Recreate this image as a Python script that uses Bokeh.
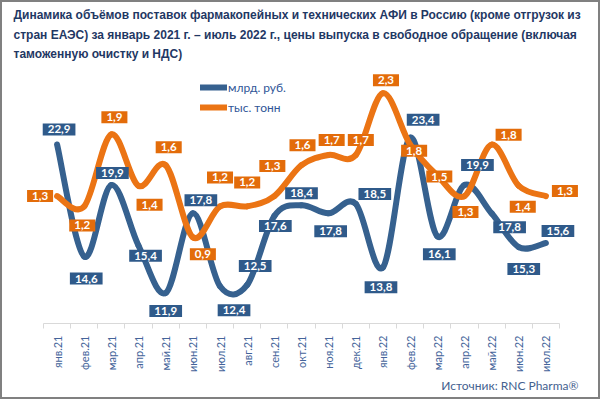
import math
from bokeh.plotting import figure
from bokeh.models import (ColumnDataSource, Range1d, FixedTicker, Title, Legend, LegendItem,
                          InlineStyleSheet)
from bokeh.core.properties import value
from bokeh.embed import file_html
from bokeh.resources import INLINE

# ---- data ----
months = ["янв.21", "фев.21", "мар.21", "апр.21", "май.21", "июн.21", "июл.21", "авг.21",
          "сен.21", "окт.21", "ноя.21", "дек.21", "янв.22", "фев.22", "мар.22", "апр.22",
          "май.22", "июн.22", "июл.22"]
rub = [22.9, 14.6, 19.9, 15.4, 11.9, 17.8, 12.4, 12.5, 17.6, 18.4, 17.8, 18.5, 13.8, 23.4,
       16.1, 19.9, 17.8, 15.3, 15.6]
tonn = [1.3, 1.2, 1.9, 1.4, 1.6, 0.9, 1.2, 1.2, 1.3, 1.6, 1.7, 1.7, 2.3, 1.8, 1.5, 1.3, 1.8,
        1.4, 1.3]

# ---- label offsets (screen px, right / down; layout only) ----
rub_dx = [2, 2, 1, 7, 0, 8, 14, 8, 1, 0, 2, 19, -2, 13, 2, 13, 18, 5, 12]
rub_dy = [-15, 22, -12, 10, 18, -13, 24, -19, 10, -12, 18, -10, 20, -18, 18, -20, 14, 22, -12]
tonn_dx = [-17, -2, 3, 11, 3, 10, 0, 0, -2, 1, 3, 5, 3, 4, 2, 1, 17, 4, 19]
tonn_dy = [0, 19, -17, 19, -18, 17, -29, -24, -30, -20, -15, -15, -13, 6, 1, 16, -10, 21, -5]

BLUE_LINE = "#36618F"
BLUE_BOX = "#2F5A8A"
ORANGE_LINE = "#EB7414"
ORANGE_BOX = "#E36C0A"

xs = list(range(len(months)))
n_cat = len(months)

# plot area geometry (px): category axis runs from 43 to 559 in a 600 px wide canvas
W, H = 600, 399
AX_L, AX_R = 43, 559
unit = (AX_R - AX_L) / n_cat
x_lo = -0.5 - AX_L / unit
x_hi = n_cat - 0.5 + (W - AX_R) / unit


def bezier_source(xv, yv):
    n = len(xv)
    d = dict(x0=[], y0=[], x1=[], y1=[], cx0=[], cy0=[], cx1=[], cy1=[])
    for i in range(n - 1):
        a = i - 1 if i > 0 else i
        b = i + 2 if i + 2 < n else i + 1
        d["x0"].append(xv[i]); d["y0"].append(yv[i])
        d["x1"].append(xv[i + 1]); d["y1"].append(yv[i + 1])
        d["cx0"].append(xv[i] + (xv[i + 1] - xv[a]) / 6.0)
        d["cy0"].append(yv[i] + (yv[i + 1] - yv[a]) / 6.0)
        d["cx1"].append(xv[i + 1] - (xv[b] - xv[i]) / 6.0)
        d["cy1"].append(yv[i + 1] - (yv[b] - yv[i]) / 6.0)
    return ColumnDataSource(d)


def fmt(v):
    return f"{v:.1f}".replace(".", ",")


p = figure(width=W, height=H, output_backend="svg", toolbar_location=None,
           x_range=Range1d(x_lo, x_hi), y_range=Range1d(9.64, 28.75),
           min_border_left=0, min_border_right=0, min_border_top=65, min_border_bottom=76)
p.extra_y_ranges = {"t": Range1d(0.062, 2.569)}
p.outline_line_color = None
p.grid.visible = False
p.yaxis.visible = False
p.background_fill_alpha = 0
p.border_fill_alpha = 0

# outer frame of the picture
p.styles = {"box-shadow": "inset 0 0 0 2px #808080", "background-color": "white"}
p.stylesheets = [InlineStyleSheet(css=":host { box-shadow: inset 0 0 0 2px #808080; background-color: white; }")]

# title
p.title.text = ("Динамика объёмов поставок фармакопейных и технических АФИ в Россию (кроме отгрузок из\n"
                "стран ЕАЭС) за январь 2021 г. – июль 2022 г., цены выпуска в свободное обращение (включая\n"
                "таможенную очистку и НДС)")
p.title.align = "left"
p.title.offset = 13
p.title.text_font = "Liberation Sans"
p.title.text_font_size = "12px"
p.title.text_font_style = "bold"
p.title.text_color = "#1F3864"
p.title.text_line_height = 1.38
p.title.standoff = 9

# x axis
ax = p.xaxis[0]
ax.bounds = (-0.5, n_cat - 0.5)
ax.ticker = FixedTicker(ticks=xs, minor_ticks=[i - 0.5 for i in range(n_cat + 1)])
ax.major_label_overrides = {i: m for i, m in enumerate(months)}
ax.major_label_orientation = math.pi / 2
ax.major_tick_line_color = None
ax.major_tick_out = 0
ax.major_tick_in = 0
ax.minor_tick_line_color = "#D9D9D9"
ax.minor_tick_out = 5
ax.minor_tick_in = 0
ax.axis_line_color = "#D9D9D9"
ax.major_label_standoff = 7
ax.major_label_text_font = "Lato"
ax.major_label_text_font_size = "11px"
ax.major_label_text_color = "#44649A"

# lines
rb = p.bezier(x0="x0", y0="y0", x1="x1", y1="y1", cx0="cx0", cy0="cy0", cx1="cx1", cy1="cy1",
              source=bezier_source(xs, rub), line_color=BLUE_LINE, line_width=6, line_cap="round")
ob = p.bezier(x0="x0", y0="y0", x1="x1", y1="y1", cx0="cx0", cy0="cy0", cx1="cx1", cy1="cy1",
              source=bezier_source(xs, tonn), line_color=ORANGE_LINE, line_width=6, line_cap="round",
              y_range_name="t")

legend = Legend(items=[LegendItem(label="млрд. руб.", renderers=[rb], index=0),
                       LegendItem(label="тыс. тонн", renderers=[ob], index=0)],
                location=(200, 206), glyph_width=27, glyph_height=20, label_height=20,
                spacing=0, padding=0, margin=0, label_standoff=1,
                background_fill_alpha=0, border_line_color=None,
                label_text_font="Lato", label_text_font_size="12px", label_text_color="#2F5597")
p.add_layout(legend)

# data labels
src_r = ColumnDataSource(dict(x=xs, y=rub, t=[fmt(v) for v in rub], dx=rub_dx, dy=rub_dy))
src_t = ColumnDataSource(dict(x=xs, y=tonn, t=[fmt(v) for v in tonn], dx=tonn_dx, dy=tonn_dy))
common = dict(text="t", x_offset="dx", y_offset="dy", text_color="white",
              text_font=value("Lato"), text_font_style="bold", text_font_size="11.5px",
              text_align="center", text_baseline="middle", border_line_color=None,
              padding=dict(left=5, right=5, top=2, bottom=2))
p.text(x="x", y="y", source=src_r, background_fill_color=BLUE_BOX, **common)
p.text(x="x", y="y", source=src_t, background_fill_color=ORANGE_BOX, y_range_name="t", **common)

# source note
src_note = Title(text="Источник: RNC Pharma®", align="right", offset=22,
                 text_font="Lato", text_font_size="12px", text_font_style="normal",
                 text_color="#44618F", standoff=0)
p.add_layout(src_note, "below")

open("out.html", "w").write(file_html(p, INLINE))
